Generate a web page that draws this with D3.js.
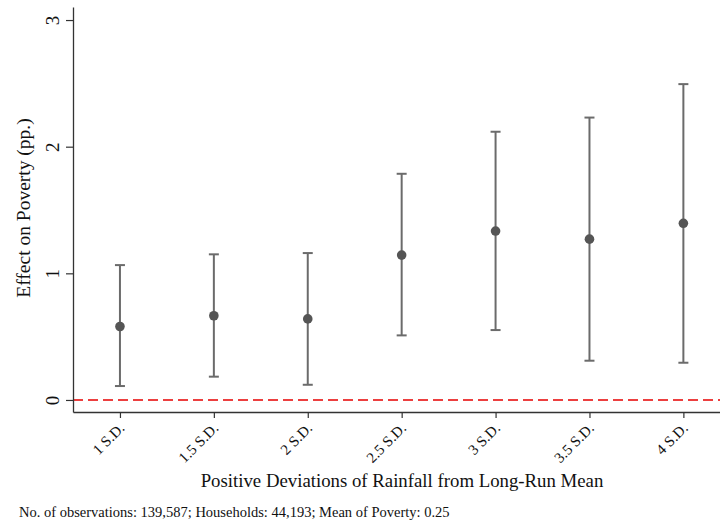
<!DOCTYPE html>
<html>
<head>
<meta charset="utf-8">
<script src="https://cdn.jsdelivr.net/npm/d3@7"></script>
<style>
  body { margin: 0; background: #fff; }
  text { font-family: "Liberation Serif", "Times New Roman", serif; }
</style>
</head>
<body>
<div id="chart-container"></div>
<script>
// Coefficient estimates with confidence bounds
const categories = ["1 S.D.", "1.5 S.D.", "2 S.D.", "2.5 S.D.", "3 S.D.", "3.5 S.D.", "4 S.D."];
const estimates = [0.58, 0.665, 0.64, 1.144, 1.334, 1.27, 1.395];
const lower = [0.11, 0.184, 0.12, 0.51, 0.552, 0.31, 0.294];
const upper = [1.065, 1.15, 1.16, 1.786, 2.118, 2.23, 2.494];
const yTicks = [0, 1, 2, 3];

const width = 720;
const height = 527;

const svg = d3.select("#chart-container")
    .append("svg")
        .attr("width", width)
        .attr("height", height);

const plotLeft = 73, plotRight = 720, plotTop = 7, plotBottom = 412;

// index scale so first category sits at 120 and last at 683
const x = d3.scaleLinear()
    .domain([-0.5, 6.39])
    .range([plotLeft, plotRight]);

const y = d3.scaleLinear()
    .domain([-0.095, 3.103])
    .range([plotBottom, plotTop]);

// zero reference line
svg.append("line")
    .attr("x1", plotLeft).attr("x2", plotRight)
    .attr("y1", y(0)).attr("y2", y(0))
    .attr("stroke", "#e60000")
    .attr("stroke-width", 1.5)
    .attr("stroke-dasharray", "10,5");

// y axis
const yAxis = svg.append("g")
    .attr("transform", `translate(${plotLeft},0)`)
    .call(d3.axisLeft(y).tickValues(yTicks).tickSize(7).tickSizeOuter(0).tickFormat(d3.format("d")));
yAxis.select(".domain").attr("stroke", "#333").attr("stroke-width", 1.3);
yAxis.selectAll(".tick line").attr("stroke", "#333").attr("stroke-width", 1.2);
yAxis.selectAll(".tick text")
    .attr("font-family", "Liberation Serif")
    .attr("font-size", 19)
    .attr("fill", "#111")
    .attr("text-anchor", "middle")
    .attr("x", 0).attr("dy", 0)
    .attr("transform", "translate(-14,0) rotate(-90)")
    .attr("y", 0);

// x axis
const xAxis = svg.append("g")
    .attr("transform", `translate(0,${plotBottom})`)
    .call(d3.axisBottom(x).tickValues(d3.range(categories.length)).tickSize(6).tickSizeOuter(0)
        .tickFormat(i => categories[i]));
xAxis.select(".domain").attr("stroke", "#333").attr("stroke-width", 1.3);
xAxis.selectAll(".tick line").attr("stroke", "#333").attr("stroke-width", 1.2);
xAxis.selectAll(".tick text")
    .attr("font-family", "Liberation Serif")
    .attr("font-size", 15)
    .attr("fill", "#111")
    .attr("text-anchor", "end")
    .attr("y", 0).attr("dy", 0)
    .attr("transform", "translate(5,17) rotate(-45)");

// error bars
const g = svg.selectAll("g.bar")
    .data(categories.map((c, i) => ({ c, i, est: estimates[i], lo: lower[i], hi: upper[i] })))
    .enter()
    .append("g")
        .attr("class", "bar");

g.append("line")
    .attr("x1", d => x(d.i)).attr("x2", d => x(d.i))
    .attr("y1", d => y(d.lo)).attr("y2", d => y(d.hi))
    .attr("stroke", "#6b6b6b")
    .attr("stroke-width", 2);

g.selectAll("line.cap")
    .data(d => [{ i: d.i, v: d.lo }, { i: d.i, v: d.hi }])
    .enter()
    .append("line")
        .attr("class", "cap")
        .attr("x1", d => x(d.i) - 5).attr("x2", d => x(d.i) + 5)
        .attr("y1", d => y(d.v)).attr("y2", d => y(d.v))
        .attr("stroke", "#6b6b6b")
        .attr("stroke-width", 2);

g.append("circle")
    .attr("cx", d => x(d.i))
    .attr("cy", d => y(d.est))
    .attr("r", 4.8)
    .attr("fill", "#555");

// axis titles
svg.append("text")
    .attr("x", 402).attr("y", 487)
    .attr("text-anchor", "middle")
    .attr("font-size", 18.8)
    .attr("fill", "#111")
    .text("Positive Deviations of Rainfall from Long-Run Mean");

svg.append("text")
    .attr("transform", "translate(30,208) rotate(-90)")
    .attr("text-anchor", "middle")
    .attr("font-size", 19.5)
    .attr("fill", "#111")
    .text("Effect on Poverty (pp.)");

svg.append("text")
    .attr("x", 19).attr("y", 517)
    .attr("font-size", 14.5)
    .attr("fill", "#111")
    .text("No. of observations: 139,587; Households: 44,193; Mean of Poverty: 0.25");
</script>
</body>
</html>
